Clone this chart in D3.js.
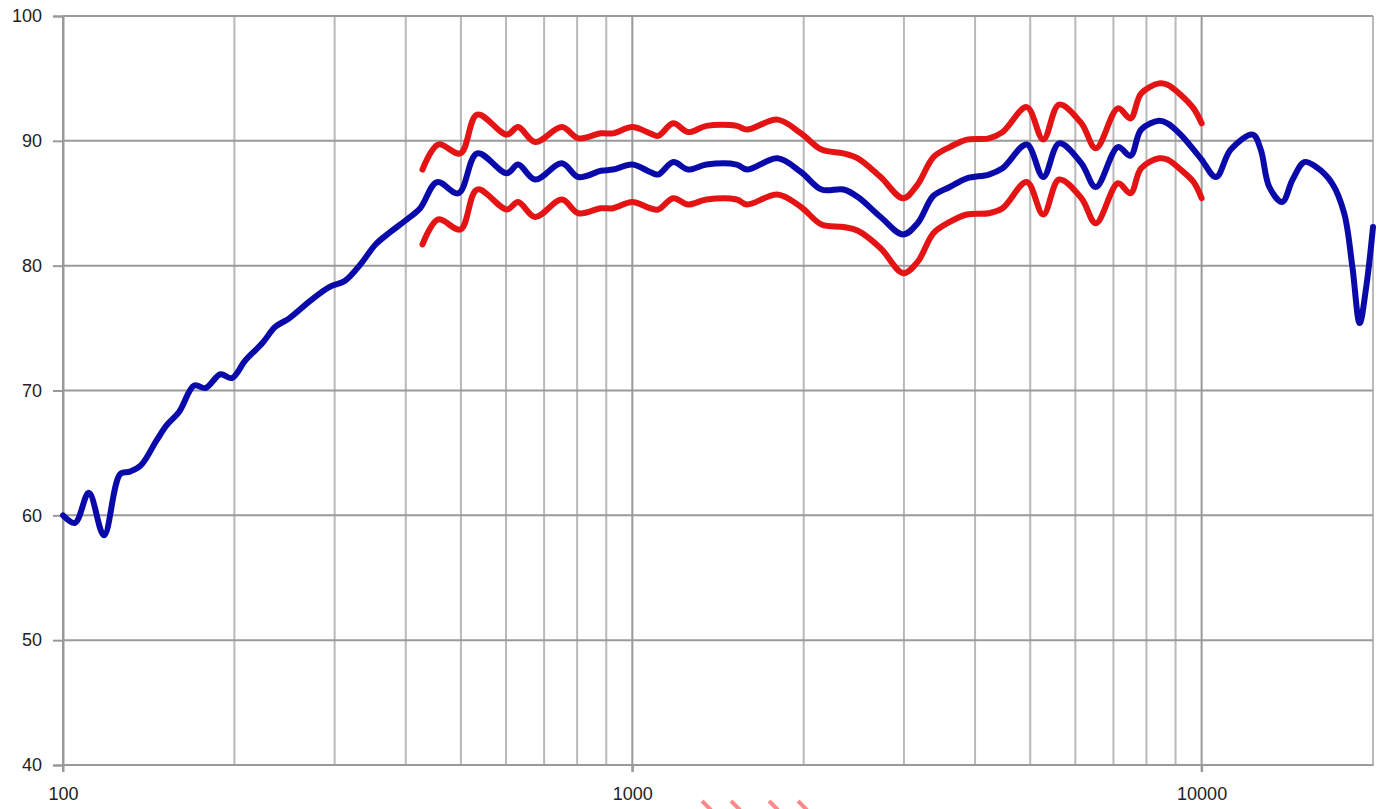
<!DOCTYPE html>
<html>
<head>
<meta charset="utf-8">
<script src="https://cdn.jsdelivr.net/npm/d3@7"></script>
<style>
  body { margin: 0; background: #fff; }
  .chart text { font-family: "Liberation Sans", Arial, sans-serif; font-size: 18px; fill: #222; }
</style>
</head>
<body>
<div class="chart"></div>
<script>
// frequency response, blue = measured, red = tolerance band
const blueFreq = [100,105,111,118,126,131,137,146,152,160,170,178,189,198,209,224,236,250,272,294,313,333,354,376,399,424,454,495,534,602,630,675,752,804,881,925,1000,1075,1110,1180,1253,1350,1525,1590,1800,1978,2150,2350,2490,2730,2990,3170,3380,3610,3870,4230,4470,4930,5270,5620,6150,6520,7130,7500,7830,8420,8710,9185,9680,10000,10600,11250,12300,12700,13150,13850,14450,15150,15900,16950,17800,18400,18950,19460,20000]
const blueDb = [60.0,59.4,61.8,58.4,63.3,63.5,64.0,66.0,67.2,68.3,70.4,70.2,71.3,71.0,72.4,73.8,75.1,75.8,77.2,78.3,78.8,80.1,81.7,82.7,83.6,84.6,86.7,85.8,89.0,87.4,88.1,86.9,88.2,87.1,87.6,87.7,88.1,87.5,87.3,88.3,87.7,88.1,88.1,87.7,88.6,87.5,86.1,86.1,85.5,83.9,82.5,83.4,85.6,86.3,87.0,87.3,87.8,89.7,87.1,89.8,88.2,86.3,89.5,88.8,90.9,91.6,91.4,90.5,89.3,88.5,87.1,89.3,90.5,89.3,86.3,85.1,86.9,88.3,87.9,86.6,84.2,79.9,75.4,78.3,83.1]

const redFreq = [428,456,499,534,602,630,675,752,804,881,925,1000,1075,1110,1180,1253,1350,1525,1590,1800,1978,2150,2350,2490,2730,2990,3170,3380,3610,3870,4230,4470,4930,5270,5620,6150,6520,7130,7500,7830,8420,8710,9185,9680,10000]
const redUpper = [87.7,89.7,89.0,92.1,90.5,91.1,89.9,91.1,90.2,90.6,90.6,91.1,90.6,90.4,91.4,90.7,91.2,91.2,90.9,91.7,90.6,89.3,89.0,88.6,87.1,85.4,86.5,88.7,89.5,90.1,90.2,90.7,92.7,90.1,92.9,91.4,89.4,92.6,91.8,93.8,94.6,94.5,93.7,92.6,91.4]
const redLower = [81.7,83.7,82.9,86.1,84.5,85.1,83.9,85.3,84.2,84.6,84.6,85.1,84.6,84.5,85.4,84.9,85.3,85.3,84.9,85.7,84.7,83.3,83.1,82.8,81.4,79.4,80.3,82.6,83.5,84.1,84.2,84.6,86.7,84.1,86.9,85.4,83.4,86.6,85.8,87.8,88.6,88.5,87.7,86.7,85.4]

const yTicks = [40,50,60,70,80,90,100]
const xLabels = [100,1000,10000]
const xGrid = [200,300,400,500,600,700,800,900,2000,3000,4000,5000,6000,7000,8000,9000,20000]

const margin = ({top: 16, right: 8, bottom: 44, left: 63})
const W = 1381, H = 809
const width = W - margin.left - margin.right
const height = H - margin.top - margin.bottom

const svg = d3.select('.chart').append('svg')
    .attr('width', W)
    .attr('height', H)
const g = svg.append('g')
    .attr('transform', `translate(${margin.left},${margin.top})`)

const x = d3.scaleLog().domain([100, 20000]).range([0, width])
const y = d3.scaleLinear().domain([40, 100]).range([height, 0])

// minor verticals
g.selectAll('.vminor').data(xGrid).enter().append('line')
    .attr('x1', d => x(d)).attr('x2', d => x(d))
    .attr('y1', 0).attr('y2', height + 1)
    .attr('stroke', '#b9b9b9').attr('stroke-width', 2)

// horizontal grid
g.selectAll('.hgrid').data(yTicks).enter().append('line')
    .attr('x1', 0).attr('x2', width)
    .attr('y1', d => y(d)).attr('y2', d => y(d))
    .attr('stroke', '#9a9a9a').attr('stroke-width', 2)

// major verticals (decades)
g.selectAll('.vmajor').data(xLabels).enter().append('line')
    .attr('x1', d => x(d)).attr('x2', d => x(d))
    .attr('y1', 0).attr('y2', height + 7)
    .attr('stroke', '#999').attr('stroke-width', 2)

// y axis
const yAxis = d3.axisLeft(y).tickValues(yTicks).tickSize(10).tickPadding(11)
g.append('g').call(yAxis)
    .call(a => a.select('.domain').attr('stroke', '#999').attr('stroke-width', 2))
    .call(a => a.selectAll('.tick line').attr('stroke', '#999').attr('stroke-width', 2))
    .call(a => a.selectAll('text').attr('font-size', 18).attr('font-family', '"Liberation Sans", Arial, sans-serif').attr('fill', '#222'))

// x axis labels
const xAxis = d3.axisBottom(x).tickValues(xLabels).tickFormat(d3.format('d')).tickSize(7).tickPadding(15)
g.append('g').attr('transform', `translate(0,${height})`).call(xAxis)
    .call(a => a.select('.domain').remove())
    .call(a => a.selectAll('.tick line').attr('stroke', '#999').attr('stroke-width', 2))
    .call(a => a.selectAll('text').attr('font-size', 18).attr('font-family', '"Liberation Sans", Arial, sans-serif').attr('fill', '#222'))

const line = d3.line()
    .x(d => x(d[0]))
    .y(d => y(d[1]))
    .curve(d3.curveCatmullRom.alpha(0.5))

const lines = [
  {f: redFreq, v: redUpper, c: '#e41414'},
  {f: redFreq, v: redLower, c: '#e41414'},
  {f: blueFreq, v: blueDb, c: '#0a0aaa'}
]

g.selectAll('.series').data(lines).enter().append('path')
    .attr('d', s => line(s.f.map((f, i) => [f, s.v[i]])))
    .attr('fill', 'none')
    .attr('stroke', s => s.c)
    .attr('stroke-width', 6)
    .attr('stroke-linejoin', 'round')
    .attr('stroke-linecap', 'round')

// cut-off watermark marks at the bottom edge
const marks = [702, 731, 769, 798]
svg.selectAll('.wm').data(marks).enter().append('line')
    .attr('x1', d => d).attr('y1', 801)
    .attr('x2', d => d + 9).attr('y2', 810)
    .attr('stroke', '#ff8a8a').attr('stroke-width', 4)
</script>
</body>
</html>
